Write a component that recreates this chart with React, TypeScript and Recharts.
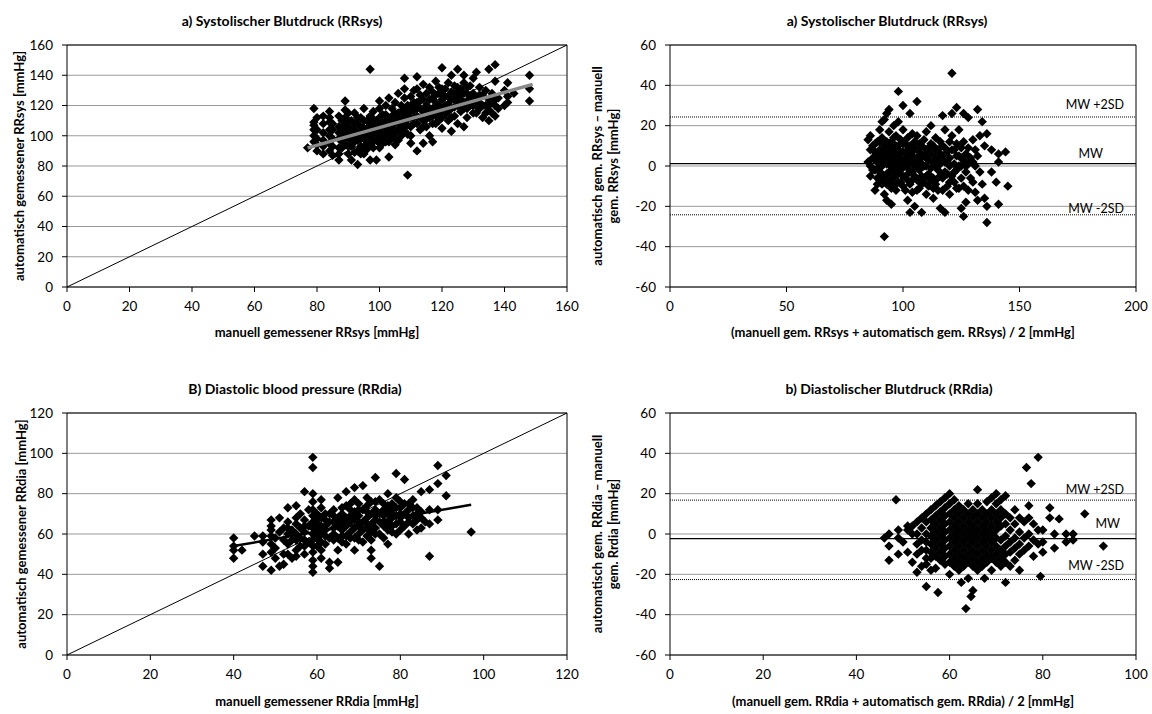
import React from 'react';
import { ScatterChart, Scatter, XAxis, YAxis, CartesianGrid, ReferenceLine, Label } from 'recharts';

const FONT = 'Lato, "Open Sans", sans-serif';

// tick values
const sysTicks = [0, 20, 40, 60, 80, 100, 120, 140, 160];
const diaTicks = [0, 20, 40, 60, 80, 100, 120];
const diffTicks = [-60, -40, -20, 0, 20, 40, 60];
const sysMeanTicks = [0, 50, 100, 150, 200];
const diaMeanTicks = [0, 20, 40, 60, 80, 100];

// a) systolic: manual value -> automatic values
const sysCols: [number, number[]][] = [
  [77, [92]], [79, [118, 109, 107, 96, 100, 104]], [80, [104, 98, 94, 112, 90]],
  [82, [97, 102, 108, 93, 88, 113]], [84, [116, 112, 109, 100, 95, 90, 104]], [85, [87, 104, 98, 93, 108]],
  [87, [84, 92, 106, 113, 98, 102, 88]], [88, [100, 96, 110, 92, 105]], [89, [123, 117, 112, 103, 94, 99, 107]],
  [90, [88, 98, 106, 101, 93, 110, 115]], [91, [84, 110, 93, 97, 104]], [92, [100, 96, 104, 115, 89, 108]],
  [93, [81, 108, 90, 97, 102, 112]], [94, [112, 102, 93, 98, 106, 88]], [95, [98, 105, 88, 118, 92, 101, 110]],
  [96, [101, 110, 95, 105, 91]], [97, [144, 84, 113, 104, 99, 94, 108]], [98, [96, 107, 92, 116, 101, 111]],
  [99, [84, 102, 110, 97, 106]], [100, [123, 105, 97, 112, 92, 101, 118, 108, 95]], [101, [108, 95, 114, 102, 99]],
  [102, [100, 120, 104, 110, 96, 114]], [103, [86, 111, 96, 125, 106, 101]], [104, [118, 106, 99, 113, 103, 109]],
  [105, [102, 122, 94, 109, 115, 98]], [106, [115, 108, 128, 97, 112, 104]], [107, [104, 112, 120, 116, 100, 108]],
  [108, [138, 131, 125, 118, 110, 103, 114, 106]], [109, [74, 114, 107, 120, 101]],
  [110, [120, 100, 126, 112, 95, 116, 106]], [111, [108, 117, 130, 112, 122]],
  [112, [139, 131, 90, 122, 113, 108, 118]], [113, [127, 104, 118, 112, 123]], [114, [95, 110, 124, 134, 116, 106]],
  [115, [115, 120, 106, 128, 111]], [116, [100, 112, 132, 118, 124]], [117, [96, 125, 118, 108, 113, 129]],
  [118, [122, 113, 136, 117, 127, 108]], [119, [132, 110, 128, 120, 115]], [120, [145, 127, 118, 105, 124, 112, 131]],
  [121, [114, 131, 120, 126]], [122, [126, 110, 135, 121, 116]], [123, [140, 103, 118, 129, 124, 112]],
  [124, [124, 133, 113, 119, 128]], [125, [144, 120, 128, 108, 124, 132]], [126, [116, 131, 124, 120, 127]],
  [127, [140, 106, 122, 135, 118, 128]], [128, [118, 128, 112, 123, 132]], [129, [125, 133, 120]],
  [130, [120, 128, 138, 115, 124]], [131, [142, 115, 125, 120]], [132, [122, 132, 118, 127]], [133, [127, 112, 120]],
  [134, [120, 130, 115]], [135, [144, 110, 124, 117, 120]], [136, [122, 128, 115]], [137, [147, 136, 113, 120, 124]],
  [138, [125, 118]], [140, [130, 120]], [141, [135, 126, 122]], [143, [128]], [148, [140, 131, 123]],
];
const sysIdentity = [{ x: 0, y: 0 }, { x: 160, y: 160 }];
const sysFit = [{ x: 77, y: 92 }, { x: 149, y: 134 }];

// a) systolic Bland-Altman: mean -> differences
const sysBaCols: [number, number[]][] = [
  [85, [13, 2]], [86, [15, 0, -5, 8]], [87, [10, 4, -2]], [88, [-12, 7, -2, 3, 11]], [89, [12, 2, -6, 6, -9]],
  [90, [18, 8, -3, 5, 0, -7, 12]], [91, [22, 0, -9, 14, 4, -4]], [92, [23, -14, 10, -35, 3, -6, 7]],
  [93, [26, -17, 6, -4, 1, 12, -9]], [94, [28, 17, -8, 1, 9, -3, 5]], [95, [-19, 12, 4, -11, 0, -6, 8]],
  [96, [20, 8, -2, -6, 14, 3, -10]], [97, [15, 2, -12, 6, -4, 10]], [98, [10, -4, 5, 22, 37, 0, -8]],
  [99, [-8, 3, 13, 7, -2]], [100, [30, 18, 0, -10, 7, -5, 11]], [101, [11, -5, 4, -12, 1]],
  [102, [-17, 14, -1, 8, 4, -7]], [103, [26, -23, 6, -9, 1, -3, 10]], [104, [16, -3, 2, -13, 7, -7]],
  [105, [-20, 9, 0, 12, 4, -5]], [106, [32, 4, -7, 15, 0, -12]], [107, [-2, 7, -11, 3, 11]],
  [108, [-23, 10, 1, -5, -9, 5]], [109, [5, -8, 13, 0]], [110, [0, -14, 8, 17, 4, -5]], [111, [3, -4, -10, 9]],
  [112, [20, 6, -1, 11, -7]], [113, [10, -6, 2, -16, -11]], [114, [4, -9, 14, 0, 8]], [115, [-2, 8, -12, 3, -6]],
  [116, [-21, 12, 1, -5, 6]], [117, [25, 5, -6, -12, 10]], [118, [-23, 18, -3, 9, 2]], [119, [2, -10, 7, -4]],
  [120, [-14, 12, 0, 4, -8]], [121, [26, -5, 15, 46, 8]], [122, [8, -8, 1, -3]], [123, [29, -2, 11, 5, -11]],
  [124, [5, -11, 18, 0]], [125, [-21, 0, 9, -6, 4]], [126, [26, -25, 3, 12, -10]], [127, [-18, 6, -3, 0]],
  [128, [-12, 1, 9, 24]], [129, [4, -6]], [130, [-8, 2, 13]], [131, [-13, 0, 8]], [132, [-17, 5, 28]],
  [133, [15, -3]], [134, [22, -9]], [135, [10, -16]], [136, [16, -20, -28]], [138, [8, -3]], [140, [-8]],
  [141, [6, 2, -19]], [144, [7]], [145, [-10]],
];
const sysLimits = [24.3, 1.2, -24.2];

// b) diastolic: manual value -> automatic values
const diaCols: [number, number[]][] = [
  [40, [58, 54, 52, 48]], [42, [52]], [45, [59]], [47, [59, 56, 50, 44]], [49, [67, 64, 62, 59, 55, 42, 51]],
  [50, [58, 53, 48]], [51, [68, 61, 44]], [52, [63, 57, 45, 50]], [53, [73, 66, 55, 60, 63, 50]],
  [54, [62, 48, 57]], [55, [74, 65, 52, 60, 57, 68, 49]], [56, [58, 63, 54, 70]], [57, [81, 67, 61, 50, 64, 57, 54]],
  [58, [64, 56, 72]], [59, [98, 93, 80, 76, 72, 69, 66, 63, 60, 57, 54, 51, 47, 44, 41]],
  [60, [65, 58, 70, 62, 54, 67]], [61, [77, 73, 68, 64, 60, 56, 52, 48]], [62, [62, 67, 55, 59, 70, 64]],
  [63, [70, 66, 58, 46, 43]], [64, [60, 63, 72, 66, 57, 69]], [65, [78, 68, 64, 58, 52, 46]],
  [66, [62, 70, 56, 66, 59, 73]], [67, [81, 74, 68, 64, 59, 55]], [68, [66, 72, 61, 58, 69, 75]],
  [69, [83, 77, 71, 67, 63, 58, 52]], [70, [64, 69, 60, 75, 66, 72, 57]], [71, [84, 72, 66, 62, 56]],
  [72, [68, 63, 78, 59, 71, 65, 74]], [73, [76, 70, 65, 61, 57, 52, 48]], [74, [88, 67, 63, 72, 69, 76, 60]],
  [75, [44, 70, 66, 60, 77]], [76, [64, 69, 58, 72, 66, 75]], [77, [80, 74, 70, 66, 62, 55]],
  [78, [68, 64, 72, 70, 75, 61]], [79, [90, 78, 73, 69, 65, 60]], [80, [66, 70, 62, 73, 68, 76]],
  [81, [87, 75, 70, 64]], [82, [68, 72, 60, 66, 75]], [83, [77, 73, 69, 65]], [84, [67, 62, 70, 73]],
  [85, [81, 71, 63, 68]], [86, [66]], [87, [82, 65, 49, 72]], [89, [94, 85, 72, 67]], [91, [89, 79]],
  [97, [61]],
];
const diaIdentity = [{ x: 0, y: 0 }, { x: 120, y: 120 }];
const diaFit = [{ x: 40, y: 54 }, { x: 97, y: 74.5 }];

// b) diastolic Bland-Altman: mean -> differences
const diaBaCols: [number, number[]][] = [
  [46, [-2]], [47, [0, -6, -13]], [48.5, [17]], [49, [2, -2, -10]], [50, [-4]], [51, [2, -9, 4]],
  [52, [4, -14, 0]], [53, [6, 0, -5, -10, -19]], [54, [8, 3, -3, -8, -16]],
  [55, [10, 6, 0, -4, -8, -12, -15, -26]], [56, [12, 7, 3, -1, -5, -9, -12, -18]],
  [57, [14, 9, 5, 1, -3, -7, -11, -17]], [57.5, [-29]], [58, [16, 11, 7, 3, -1, -5, -9, -13]],
  [59, [18, 13, 9, 5, 1, -3, -7, -11, -15]], [60, [20, 15, 10, 6, 2, -2, -6, -10, -14, -20]],
  [61, [17, 12, 8, 4, 0, -4, -8, -12, -16]], [62, [14, 10, 6, 2, -2, -6, -10, -14, -18]], [62.5, [-24]],
  [63, [12, 8, 4, 0, -4, -8, -12, -16]], [63.5, [-37]], [64, [15, 10, 6, 2, -2, -6, -10, -14, -22]],
  [64.6, [-31]], [65, [12, 8, 4, 0, -4, -8, -12, -16, -28]], [66, [22, 15, 10, 6, 2, -2, -6, -10, -14, -18]],
  [67, [12, 8, 4, 0, -4, -8, -12, -16]], [67.5, [-22]], [68, [16, 10, 6, 2, -2, -6, -10, -14]],
  [69, [18, 12, 8, 4, 0, -4, -8, -12, -18]], [70, [20, 15, 10, 6, 2, -2, -6, -10, -14]],
  [71, [17, 12, 8, 4, -3, -8, -12, -16]], [72, [19, 10, 5, -1, -6, -10, -14, -24]],
  [73, [8, 2, -4, -9, -16]], [74, [12, 5, -2, -7, -13]], [75, [8, 1, -5, -10, -18]],
  [76, [6, -2, -8]], [76.5, [33]], [77, [14, 8, 0, -6]], [77.5, [25]], [78, [5, -3, -11]],
  [79, [38, 2, -5]], [79.5, [-21]], [80, [2, -4, -9]], [81.5, [13, 8]], [82.5, [-7, 0]], [83.5, [7.5]],
  [85, [0, -4]], [86.5, [0, -3]], [89, [10]], [93, [-6]],
];
const diaLimits = [16.8, -2.3, -22.6];

const limitNames = ['MW +2SD', 'MW', 'MW -2SD'];

const toPoints = (cols: [number, number[]][]) => cols.flatMap(([x, ys]) => ys.map((y) => ({ x, y })));

const Diamond = (props: any) => {
  const { cx, cy } = props;
  if (cx == null || cy == null) return null;
  const r = 4.7;
  return <path d={`M${cx},${cy - r}L${cx + r},${cy}L${cx},${cy + r}L${cx - r},${cy}Z`} fill="#000" />;
};

const NoShape = () => <g />;

const LimitLabel = (props: any) => {
  const { viewBox, text, right, up } = props;
  if (!viewBox) return null;
  return (
    <text x={viewBox.x + viewBox.width - right} y={viewBox.y - up} textAnchor="end" fontSize={12.5} fontFamily={FONT} fill="#000">
      {text}
    </text>
  );
};

const tickStyle = { fill: '#000', fontSize: 13.5, fontFamily: FONT };
const axisLabelStyle = { textAnchor: 'middle', fontWeight: 700, fontSize: 13, fontFamily: FONT, fill: '#000' } as any;

const Title = ({ x, y, text }: { x: number; y: number; text: string }) => (
  <div style={{ position: 'absolute', left: x, top: y, transform: 'translate(-50%, -50%)', whiteSpace: 'nowrap', fontFamily: FONT, fontWeight: 700, fontSize: 14, color: '#000' }}>
    {text}
  </div>
);

interface PanelProps {
  left: number;
  top: number;
  width: number;
  height: number;
  margin: any;
  yAxisWidth: number;
  xMax: number;
  xTicks: number[];
  yDomain: number[];
  yTicks: number[];
  points: any[];
  xLabel: string;
  yLabels: string[];
  yLabelOffsets: number[];
  xLabelOffset: number;
  fit?: any[];
  fitColor?: string;
  fitWidth?: number;
  children?: any;
}

const Panel = (p: PanelProps) => (
  <div style={{ position: 'absolute', left: p.left, top: p.top }}>
    <ScatterChart width={p.width} height={p.height} margin={p.margin}>
      <CartesianGrid vertical={false} stroke="#9a9a9a" strokeWidth={1} />
      <XAxis
        type="number"
        dataKey="x"
        domain={[0, p.xMax]}
        ticks={p.xTicks}
        interval={0}
        height={40}
        tickSize={5}
        tickMargin={9}
        tick={tickStyle}
        axisLine={{ stroke: '#000' }}
        tickLine={{ stroke: '#000' }}
      >
        <Label value={p.xLabel} position="insideTop" offset={p.xLabelOffset} style={axisLabelStyle} />
      </XAxis>
      <YAxis
        type="number"
        dataKey="y"
        domain={p.yDomain}
        ticks={p.yTicks}
        interval={0}
        width={p.yAxisWidth}
        tickSize={5}
        tickMargin={9}
        tick={tickStyle}
        axisLine={{ stroke: '#000' }}
        tickLine={{ stroke: '#000' }}
      >
        {p.yLabels.map((t, i) => (
          <Label key={t} value={t} angle={-90} position="insideLeft" offset={p.yLabelOffsets[i]} style={axisLabelStyle} />
        ))}
      </YAxis>
      <ReferenceLine y={p.yDomain[1]} stroke="#000" strokeWidth={1} />
      <ReferenceLine x={p.xMax} stroke="#000" strokeWidth={1} />
      {p.children}
      <Scatter data={p.points} shape={<Diamond />} isAnimationActive={false} />
      {p.fit && (
        <Scatter
          data={p.fit}
          shape={<NoShape />}
          line={{ stroke: p.fitColor, strokeWidth: p.fitWidth }}
          legendType="none"
          isAnimationActive={false}
        />
      )}
    </ScatterChart>
  </div>
);

export default function App() {
  return (
    <div style={{ position: 'absolute', left: 0, top: 0, width: 1152, height: 714, background: '#fff', overflow: 'hidden' }}>
      <Title x={282} y={20} text="a) Systolischer Blutdruck (RRsys)" />
      <Title x={887} y={20} text="a) Systolischer Blutdruck (RRsys)" />
      <Title x={295} y={388} text="B) Diastolic blood pressure (RRdia)" />
      <Title x={889} y={388} text="b) Diastolischer Blutdruck (RRdia)" />

      <Panel
        left={0} top={0} width={580} height={360}
        margin={{ top: 45, right: 13, left: 0, bottom: 33 }}
        yAxisWidth={67} xMax={160} xTicks={sysTicks} yDomain={[0, 160]} yTicks={sysTicks}
        points={toPoints(sysCols)}
        xLabel="manuell gemessener RRsys [mmHg]" xLabelOffset={41}
        yLabels={['automatisch gemessener RRsys  [mmHg]']} yLabelOffsets={[19]}
        fit={sysFit} fitColor="#8a8a8a" fitWidth={3.5}
      >
        <ReferenceLine segment={sysIdentity} stroke="#000" strokeWidth={1} />
      </Panel>

      <Panel
        left={580} top={0} width={572} height={360}
        margin={{ top: 45, right: 16, left: 0, bottom: 33 }}
        yAxisWidth={90} xMax={200} xTicks={sysMeanTicks} yDomain={[-60, 60]} yTicks={diffTicks}
        points={toPoints(sysBaCols)}
        xLabel="(manuell gem. RRsys + automatisch gem. RRsys) / 2 [mmHg]" xLabelOffset={41}
        yLabels={['automatisch gem. RRsys \u2013 manuell', 'gem. RRsys [mmHg]']} yLabelOffsets={[17, 33]}
      >
        <ReferenceLine y={sysLimits[0]} stroke="#000" strokeDasharray="1 1" label={<LimitLabel text={limitNames[0]} right={12} up={8} />} />
        <ReferenceLine y={sysLimits[1]} stroke="#000" strokeWidth={1.3} label={<LimitLabel text={limitNames[1]} right={33} up={6} />} />
        <ReferenceLine y={sysLimits[2]} stroke="#000" strokeDasharray="1 1" label={<LimitLabel text={limitNames[2]} right={12} up={2} />} />
      </Panel>

      <Panel
        left={0} top={360} width={580} height={354}
        margin={{ top: 53, right: 13, left: 0, bottom: 19 }}
        yAxisWidth={67} xMax={120} xTicks={diaTicks} yDomain={[0, 120]} yTicks={diaTicks}
        points={toPoints(diaCols)}
        xLabel="manuell gemessener RRdia [mmHg]" xLabelOffset={42}
        yLabels={['automatisch gemessener RRdia  [mmHg]']} yLabelOffsets={[21]}
        fit={diaFit} fitColor="#000" fitWidth={2.5}
      >
        <ReferenceLine segment={diaIdentity} stroke="#000" strokeWidth={1} />
      </Panel>

      <Panel
        left={580} top={360} width={572} height={354}
        margin={{ top: 53, right: 16, left: 0, bottom: 19 }}
        yAxisWidth={90} xMax={100} xTicks={diaMeanTicks} yDomain={[-60, 60]} yTicks={diffTicks}
        points={toPoints(diaBaCols)}
        xLabel="(manuell gem. RRdia + automatisch gem. RRdia) / 2 [mmHg]" xLabelOffset={42}
        yLabels={['automatisch gem. RRdia \u2013 manuell', 'gem. Rrdia [mmHg]']} yLabelOffsets={[17, 33]}
      >
        <ReferenceLine y={diaLimits[0]} stroke="#000" strokeDasharray="1 1" label={<LimitLabel text={limitNames[0]} right={12} up={6} />} />
        <ReferenceLine y={diaLimits[1]} stroke="#000" strokeWidth={1.3} label={<LimitLabel text={limitNames[1]} right={16} up={11} />} />
        <ReferenceLine y={diaLimits[2]} stroke="#000" strokeDasharray="1 1" label={<LimitLabel text={limitNames[2]} right={12} up={10} />} />
      </Panel>
    </div>
  );
}
